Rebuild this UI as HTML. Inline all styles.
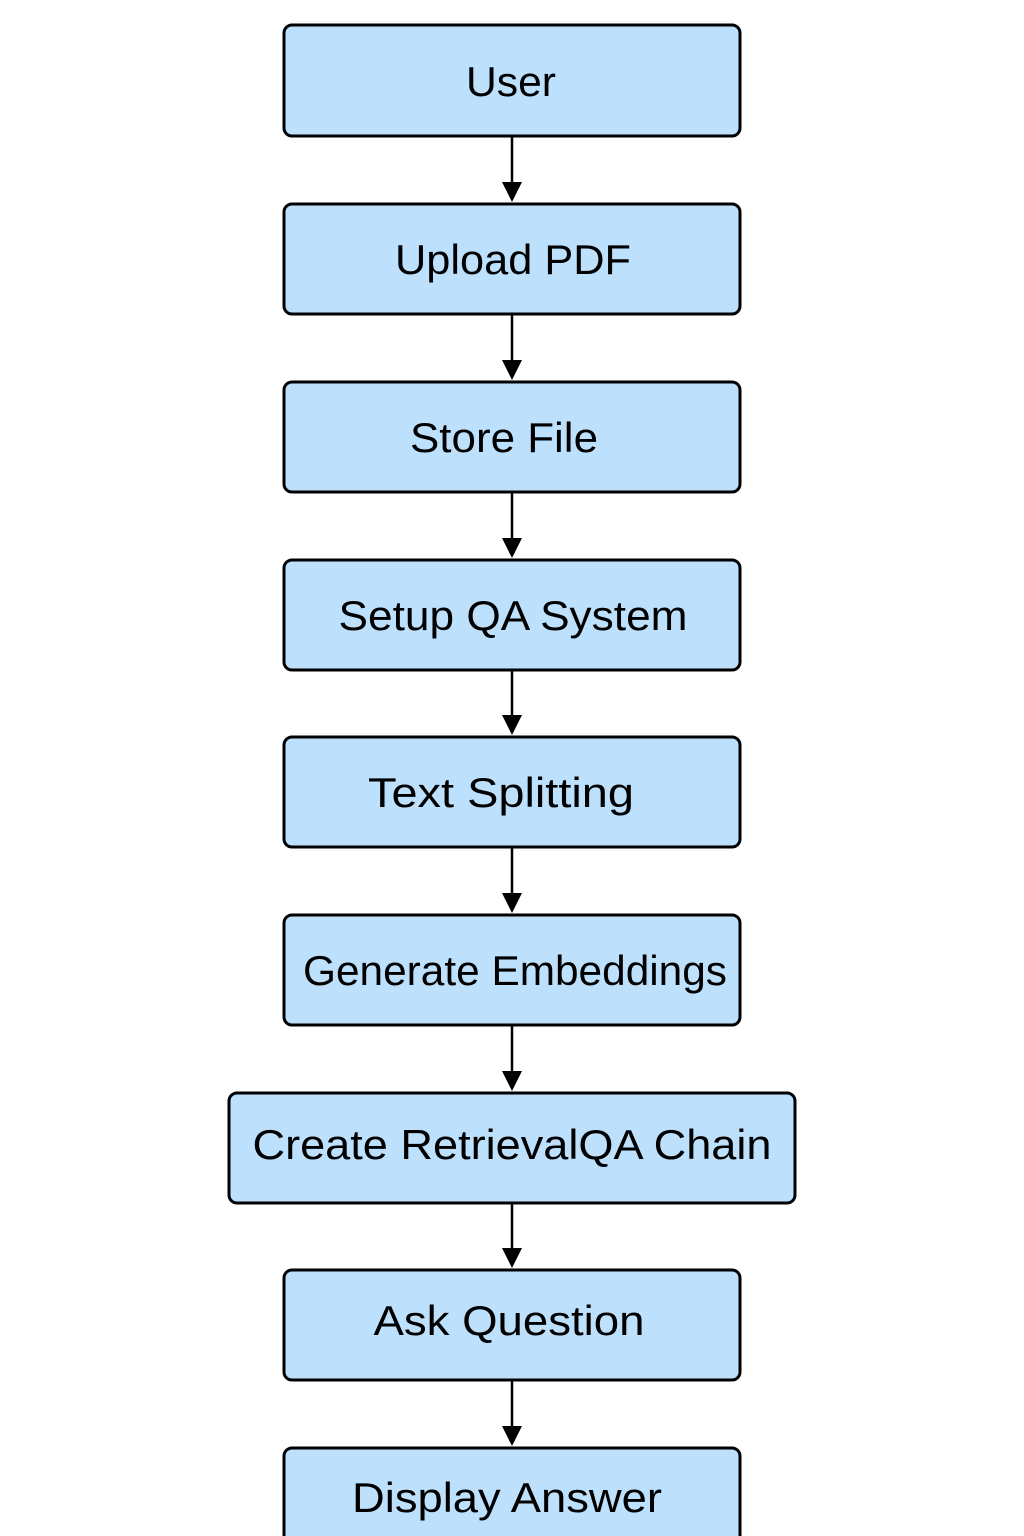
<!DOCTYPE html>
<html><head><meta charset="utf-8"><style>html,body{margin:0;padding:0;background:#fff}svg{display:block}</style></head>
<body>
<svg width="1024" height="1536" viewBox="0 0 1024 1536" xmlns="http://www.w3.org/2000/svg">
<g fill="#bde0fc" stroke="#000" stroke-width="3">
<rect x="284" y="25" width="456" height="111" rx="8"/>
<rect x="284" y="204" width="456" height="110" rx="8"/>
<rect x="284" y="382" width="456" height="110" rx="8"/>
<rect x="284" y="560" width="456" height="110" rx="8"/>
<rect x="284" y="737" width="456" height="110" rx="8"/>
<rect x="284" y="915" width="456" height="110" rx="8"/>
<rect x="229" y="1093" width="566" height="110" rx="8"/>
<rect x="284" y="1270" width="456" height="110" rx="8"/>
<rect x="284" y="1448" width="456" height="120" rx="8"/>
</g>
<g stroke="#000" stroke-width="2.5">
<line x1="512" y1="137" x2="512" y2="185"/>
<line x1="512" y1="315" x2="512" y2="363"/>
<line x1="512" y1="493" x2="512" y2="541"/>
<line x1="512" y1="671" x2="512" y2="718"/>
<line x1="512" y1="848" x2="512" y2="896"/>
<line x1="512" y1="1026" x2="512" y2="1074"/>
<line x1="512" y1="1204" x2="512" y2="1251"/>
<line x1="512" y1="1381" x2="512" y2="1429"/>
</g>
<g fill="#000">
<polygon points="502,182 522,182 512,202"/>
<polygon points="502,360 522,360 512,380"/>
<polygon points="502,538 522,538 512,558"/>
<polygon points="502,715 522,715 512,735"/>
<polygon points="502,893 522,893 512,913"/>
<polygon points="502,1071 522,1071 512,1091"/>
<polygon points="502,1248 522,1248 512,1268"/>
<polygon points="502,1426 522,1426 512,1446"/>
</g>
<g font-family="Liberation Sans, DejaVu Sans, sans-serif" font-size="42" fill="#000" text-anchor="middle">
<text x="511" y="96" textLength="90" lengthAdjust="spacingAndGlyphs">User</text>
<text x="513" y="274" textLength="236" lengthAdjust="spacingAndGlyphs">Upload PDF</text>
<text x="504" y="452" textLength="188" lengthAdjust="spacingAndGlyphs">Store File</text>
<text x="513" y="630" textLength="349" lengthAdjust="spacingAndGlyphs">Setup QA System</text>
<text x="501" y="807" textLength="266" lengthAdjust="spacingAndGlyphs">Text Splitting</text>
<text x="515" y="985" textLength="424" lengthAdjust="spacingAndGlyphs">Generate Embeddings</text>
<text x="512" y="1159" textLength="519" lengthAdjust="spacingAndGlyphs">Create RetrievalQA Chain</text>
<text x="509" y="1335" textLength="271" lengthAdjust="spacingAndGlyphs">Ask Question</text>
<text x="507" y="1512" textLength="310" lengthAdjust="spacingAndGlyphs">Display Answer</text>
</g>
</svg>
</body></html>
